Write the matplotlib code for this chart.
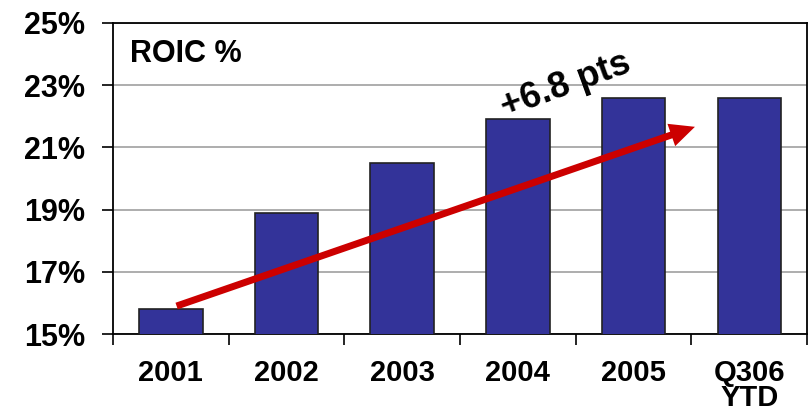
import numpy as np
import matplotlib
matplotlib.use('Agg')
import matplotlib.pyplot as plt
from matplotlib.ticker import FuncFormatter

plt.rcParams['font.family'] = ['Liberation Sans', 'DejaVu Sans']
plt.rcParams['font.weight'] = 'bold'

categories = ['2001', '2002', '2003', '2004', '2005', 'Q306\nYTD']
roic = [15.8, 18.9, 20.5, 21.9, 22.6, 22.6]
y_ticks = [15, 17, 19, 21, 23, 25]
trend_start = (0.05, 15.9)
trend_end = (4.53, 21.66)
trend_label = '+6.8 pts'
title = 'ROIC %'

fig = plt.figure(figsize=(8.1, 4.16), dpi=100)
ax = fig.add_axes([0.1395, 0.197, 0.857, 0.748])

x = np.arange(len(categories))
ax.bar(x, roic, width=0.55, color='#333399', edgecolor='#222222', linewidth=1.2, zorder=3)

ax.set_xlim(-0.5, len(categories) - 0.5)
ax.set_ylim(15, 25)

# y axis: percent ticks every 2 pts, starting at 15
ax.set_yticks(y_ticks)
ax.yaxis.set_major_formatter(FuncFormatter(lambda v, p: f'{v:.0f}%'))
ax.tick_params(axis='y', length=8, width=1.2, pad=12, labelsize=22)
ax.grid(axis='y', color='#a0a0a0', linewidth=1.2, zorder=0)

# x axis: labels centered, tick marks on category boundaries
ax.set_xticks(x)
ax.set_xticklabels(categories, linespacing=0.85)
ax.set_xticks(np.arange(len(categories) + 1) - 0.5, minor=True)
ax.tick_params(axis='x', which='major', length=0, pad=18, labelsize=21)
ax.tick_params(axis='x', which='minor', length=8, width=1.2)

for s in ax.spines.values():
    s.set_linewidth(1.3)
    s.set_color('black')

ax.text(0.0245, 0.90, title, transform=ax.transAxes, fontsize=22,
        fontweight='bold', ha='left', va='center')

ax.annotate('', xy=trend_end, xytext=trend_start,
            arrowprops=dict(width=5, headwidth=17, headlength=18, shrink=0,
                            color='#cc0000', linewidth=0), zorder=5)
ax.text(3.41, 23.0, trend_label, fontsize=26, fontweight='bold', rotation=20,
        ha='center', va='center', rotation_mode='anchor', zorder=6)

fig.savefig('out.png', dpi=100)
